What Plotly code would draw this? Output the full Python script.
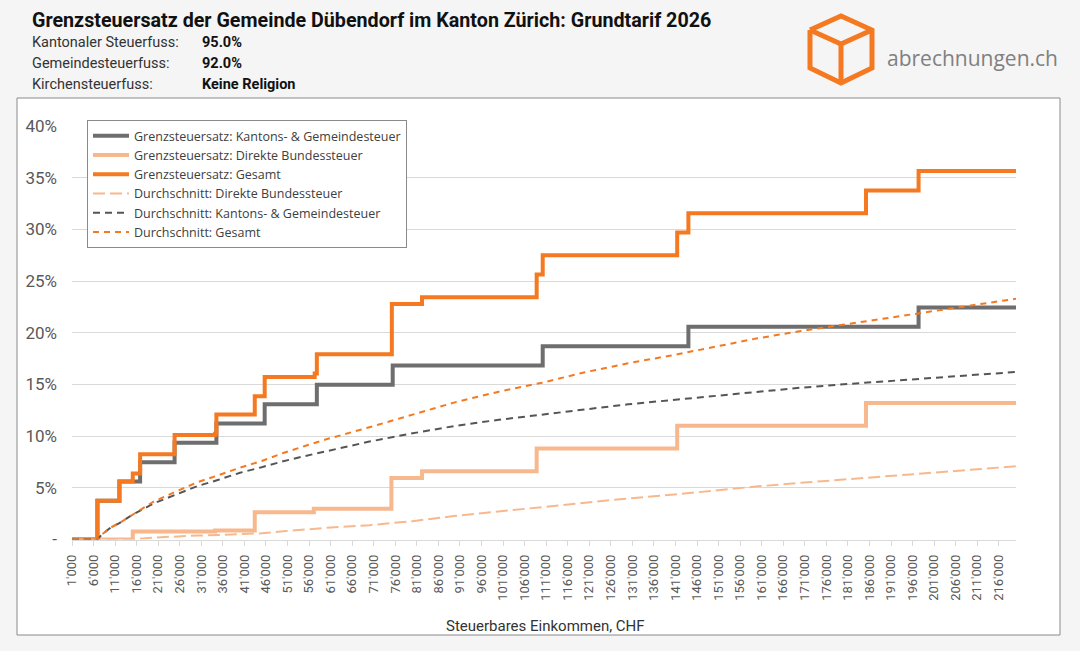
import plotly.graph_objects as go

# ---------------- data (percent) ----------------
kanton_x = [1000, 6900, 12000, 16800, 24800, 34500, 45700, 57800, 75400, 110200, 144000, 197400, 220000]
kanton_y = [0, 3.74, 5.61, 7.48, 9.35, 11.22, 13.09, 14.96, 16.83, 18.70, 20.57, 22.44, 22.44]

bund_x = [1000, 15100, 34200, 43400, 57100, 75100, 82200, 108800, 141400, 185200, 220000]
bund_y = [0, 0.77, 0.88, 2.64, 2.97, 5.94, 6.60, 8.80, 11.00, 13.20, 13.20]

gesamt_x = [1000, 6900, 12000, 15100, 16800, 24800, 34200, 34500, 43400, 45700, 57300, 57800,
            75200, 82200, 108800, 110200, 141400, 144000, 185200, 197400, 220000]
gesamt_y = [0, 3.74, 5.61, 6.38, 8.25, 10.12, 10.23, 12.10, 13.86, 15.73, 16.06, 17.93,
            22.77, 23.43, 25.63, 27.50, 29.70, 31.57, 33.77, 35.64, 35.64]

avg_x = [1000, 5000, 6900, 8000, 10000, 12000, 15000, 20000, 25000, 30000, 35000, 40000, 45000,
         50000, 55000, 60000, 70000, 80000, 90000, 100000, 110000, 120000, 130000, 140000,
         150000, 160000, 170000, 180000, 190000, 200000, 210000, 220000]
avg_bund = [0, 0, 0, 0, 0, 0, 0, 0.19, 0.30, 0.38, 0.44, 0.50, 0.60, 0.80, 0.97, 1.13, 1.39,
            1.77, 2.29, 2.72, 3.10, 3.57, 3.97, 4.32, 4.74, 5.14, 5.48, 5.79, 6.12, 6.47, 6.79, 7.08]
avg_kanton = [0, 0, 0, 0.51, 1.16, 1.59, 2.39, 3.50, 4.31, 5.15, 5.78, 6.46, 6.99, 7.57, 8.07,
              8.56, 9.47, 10.27, 11.00, 11.58, 12.06, 12.61, 13.08, 13.48, 13.90, 14.32, 14.68,
              15.01, 15.30, 15.59, 15.92, 16.21]
avg_gesamt = [0, 0, 0, 0.51, 1.16, 1.59, 2.39, 3.69, 4.61, 5.53, 6.22, 6.96, 7.59, 8.37, 9.04,
              9.69, 10.86, 12.04, 13.29, 14.30, 15.16, 16.18, 17.05, 17.80, 18.64, 19.46, 20.16,
              20.80, 21.42, 22.06, 22.71, 23.29]

x_tickvals = list(range(1000, 216001, 5000))
x_ticktext = [f"{v // 1000}'000" for v in x_tickvals]
y_tickvals = [0, 5, 10, 15, 20, 25, 30, 35, 40]
y_ticktext = ["-", "5%", "10%", "15%", "20%", "25%", "30%", "35%", "40%"]

title = "Grenzsteuersatz der Gemeinde Dübendorf im Kanton Zürich: Grundtarif 2026"
info_labels = ["Kantonaler Steuerfuss:", "Gemeindesteuerfuss:", "Kirchensteuerfuss:"]
info_values = ["95.0%", "92.0%", "Keine Religion"]

# ---------------- styling ----------------
W, H = 1080, 651
FONT = "Roboto"
C_GRAY = "#6e6e6e"
C_LIGHT = "#f8b88e"
C_ORANGE = "#f47920"
C_GRAY_D = "#555555"


def px(x):
    return x / W


def py(y):
    return 1 - y / H


fig = go.Figure()
fig.add_trace(go.Scatter(x=kanton_x, y=kanton_y, mode="lines", line=dict(color=C_GRAY, width=4, shape="hv"),
                         name="Grenzsteuersatz: Kantons- & Gemeindesteuer"))
fig.add_trace(go.Scatter(x=bund_x, y=bund_y, mode="lines", line=dict(color=C_LIGHT, width=4, shape="hv"),
                         name="Grenzsteuersatz: Direkte Bundessteuer"))
fig.add_trace(go.Scatter(x=gesamt_x, y=gesamt_y, mode="lines", line=dict(color=C_ORANGE, width=4, shape="hv"),
                         name="Grenzsteuersatz: Gesamt"))
fig.add_trace(go.Scatter(x=avg_x, y=avg_bund, mode="lines", line=dict(color=C_LIGHT, width=2, dash="12px,5px"),
                         name="Durchschnitt: Direkte Bundessteuer"))
fig.add_trace(go.Scatter(x=avg_x, y=avg_kanton, mode="lines", line=dict(color=C_GRAY_D, width=2, dash="7px,5px"),
                         name="Durchschnitt: Kantons- & Gemeindesteuer"))
fig.add_trace(go.Scatter(x=avg_x, y=avg_gesamt, mode="lines", line=dict(color=C_ORANGE, width=2, dash="6px,5px"),
                         name="Durchschnitt: Gesamt"))

x0p, x1p = 72, 1016
y0p, y1p = 539.5, 126

shapes = [
    dict(type="rect", xref="paper", yref="paper", x0=px(17), x1=px(1060), y0=py(635), y1=py(98),
         fillcolor="white", line=dict(color="#8a8a8a", width=1), layer="below"),
]

# logo cube (orange outline)
cube_pts = {
    "T": (841, 16), "UL": (810, 30), "UR": (872, 30), "C": (841, 44),
    "LL": (810, 68), "LR": (872, 68), "B": (841, 83),
}


def pth(names):
    pts = [cube_pts[n] for n in names]
    return "M " + " L ".join(f"{px(a):.5f},{py(b):.5f}" for a, b in pts)


for seg in [["UL", "T", "UR", "LR", "B", "LL", "UL"], ["UL", "C", "UR"], ["C", "B"]]:
    shapes.append(dict(type="path", xref="paper", yref="paper", path=pth(seg),
                       line=dict(color="#f47920", width=5), layer="above"))

annotations = [
    dict(text=f"<b>{title}</b>", x=px(30), y=py(20), xref="paper", yref="paper", xanchor="left",
         yanchor="middle", showarrow=False, font=dict(family=FONT, size=19.7, color="#111111")),
    dict(text="abrechnungen.ch", x=px(885), y=py(58), xref="paper", yref="paper", xanchor="left",
         yanchor="middle", showarrow=False, font=dict(family="Open Sans", size=21, color="#808080")),
    dict(text="Steuerbares Einkommen, CHF", x=px(545), y=py(626), xref="paper", yref="paper",
         xanchor="center", yanchor="middle", showarrow=False, font=dict(family=FONT, size=15, color="#333333")),
]
for i, (lab, val) in enumerate(zip(info_labels, info_values)):
    yy = 43 + i * 20.5
    annotations.append(dict(text=lab, x=px(30), y=py(yy), xref="paper", yref="paper", xanchor="left",
                            yanchor="middle", showarrow=False, font=dict(family=FONT, size=14.5, color="#333333")))
    annotations.append(dict(text=f"<b>{val}</b>", x=px(200), y=py(yy), xref="paper", yref="paper",
                            xanchor="left", yanchor="middle", showarrow=False,
                            font=dict(family=FONT, size=14.5, color="#111111")))

fig.update_layout(
    width=W, height=H,
    margin=dict(l=0, r=0, t=0, b=0),
    paper_bgcolor="#f5f5f5",
    plot_bgcolor="rgba(0,0,0,0)",
    font=dict(family=FONT, color="#595959"),
    showlegend=True,
    legend=dict(x=px(87), y=py(120), xanchor="left", yanchor="top", bgcolor="white",
                bordercolor="#8a8a8a", borderwidth=1, font=dict(family="Open Sans", size=12.5, color="#404040"),
                itemwidth=36, tracegroupgap=0),
    xaxis=dict(domain=[px(x0p), px(x1p)], range=[1000, 220000], tickmode="array", tickvals=x_tickvals,
               ticktext=x_ticktext, tickangle=-90, showgrid=False, zeroline=False, showline=True,
               linecolor="#d9d9d9", linewidth=1, ticks="outside", ticklen=5, tickcolor="#d9d9d9",
               tickfont=dict(family=FONT, size=13, color="#595959"), automargin=False,
               ticklabelstandoff=4),
    yaxis=dict(domain=[py(y0p), py(y1p)], range=[0, 40], tickmode="array", tickvals=y_tickvals,
               ticktext=y_ticktext, showgrid=True, gridcolor="#d9d9d9", gridwidth=1, zeroline=False,
               showline=False, ticks="", tickfont=dict(family=FONT, size=17, color="#595959"),
               automargin=False, ticklabelstandoff=14),
    shapes=shapes,
    annotations=annotations,
)

fig.write_html("out.html")
